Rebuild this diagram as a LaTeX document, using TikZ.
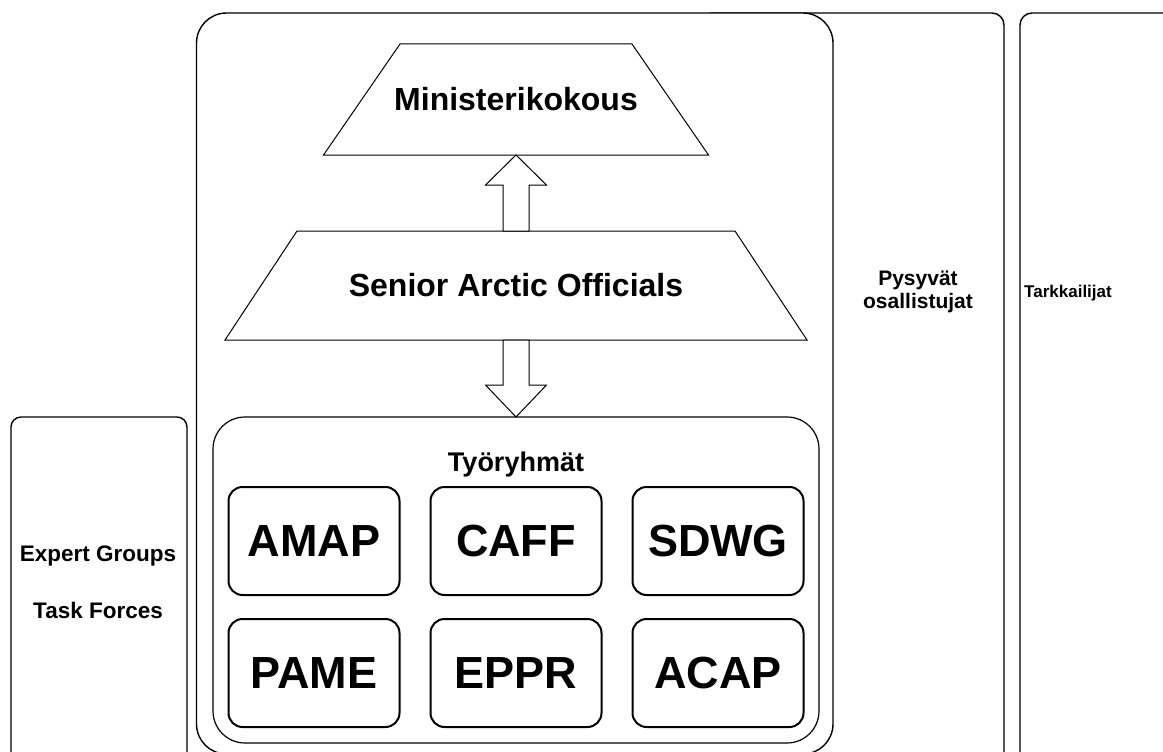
\documentclass[tikz,border=0pt]{standalone}
\usepackage{fontspec}
\setmainfont{Liberation Sans}
\usetikzlibrary{positioning, calc}

\begin{document}
\begin{tikzpicture}[x=1pt, y=-1pt, font=\bfseries,
    frame/.style={draw, line width=1.4pt, rounded corners=12pt},
    level/.style={inner sep=0pt, outer sep=0pt,
        font=\fontsize{32}{38}\selectfont\bfseries},
    trapline/.style={draw, line width=1pt, line join=miter},
    wg/.style={draw, line width=2pt, rounded corners=14pt, outer sep=0pt,
        minimum width=171pt, minimum height=108pt,
        font=\fontsize{45}{52}\selectfont\bfseries},
    hollow/.style={draw, line width=1pt, fill=white, line join=miter},
    sidetext/.style={font=\fontsize{21}{23}\selectfont\bfseries, align=center}]
  \useasboundingbox (0,0) rectangle (1163,752);
  % side columns
  \draw[frame] (700,13) rectangle (1004,790);
  \draw[frame] (1020,13) rectangle (1200,790);
  \draw[frame, rounded corners=10pt] (11,417) rectangle (187,790);
  \node[sidetext] (po) at (918,292) {Pysyvät\\osallistujat};
  \node[sidetext, font=\fontsize{17}{20}\selectfont\bfseries] (ta) at (1068,293) {Tarkkailijat};
  \node[sidetext, font=\fontsize{22.5}{25}\selectfont\bfseries] (eg) at (98,556) {Expert Groups};
  \node[sidetext, font=\fontsize{22.5}{25}\selectfont\bfseries] (tf) at (98,610) {Task Forces};
  % council
  \draw[frame, fill=white, rounded corners=30pt] (196.5,13) rectangle (833,754);
  \node[level, minimum width=385pt, minimum height=111pt] (mk) at (516,99.5) {Ministerikokous};
  \draw[trapline] (mk.south west) -- ($(mk.north west)+(76.5,0)$)
    -- ($(mk.north east)+(-76.5,0)$) -- (mk.south east) -- cycle;
  \node[level, minimum width=582pt, minimum height=109pt, below=76pt of mk] (sao)
    {Senior Arctic Officials};
  \draw[trapline] (sao.south west) -- ($(sao.north west)+(72,0)$)
    -- ($(sao.north east)+(-72,0)$) -- (sao.south east) -- cycle;
  \node[draw, line width=1.2pt, rounded corners=32pt, outer sep=0pt,
        minimum width=606pt, minimum height=326pt, below=77pt of sao] (wgs) {};
  \node[font=\fontsize{27}{32}\selectfont\bfseries] (wgt) at (516,465) {Työryhmät};
  % working groups
  \node[wg] (caff) at (516,541) {CAFF};
  \node[wg, left=31pt of caff] (amap) {AMAP};
  \node[wg, right=31pt of caff] (sdwg) {SDWG};
  \node[wg, below=24pt of caff] (eppr) {EPPR};
  \node[wg, left=31pt of eppr] (pame) {PAME};
  \node[wg, right=31pt of eppr] (acap) {ACAP};
  % arrows
  \draw[hollow] ($(sao.north)+(-13,0)$) -- ++(0,-46) -- ++(-17.5,0) -- (mk.south)
    -- ++(30.5,30) -- ++(-17.5,0) -- ($(sao.north)+(13,0)$) -- cycle;
  \draw[hollow] ($(sao.south)+(-13,0)$) -- ++(0,45) -- ++(-17.5,0) -- (wgs.north)
    -- ++(30.5,-32) -- ++(-17.5,0) -- ($(sao.south)+(13,0)$) -- cycle;
\end{tikzpicture}
\end{document}
